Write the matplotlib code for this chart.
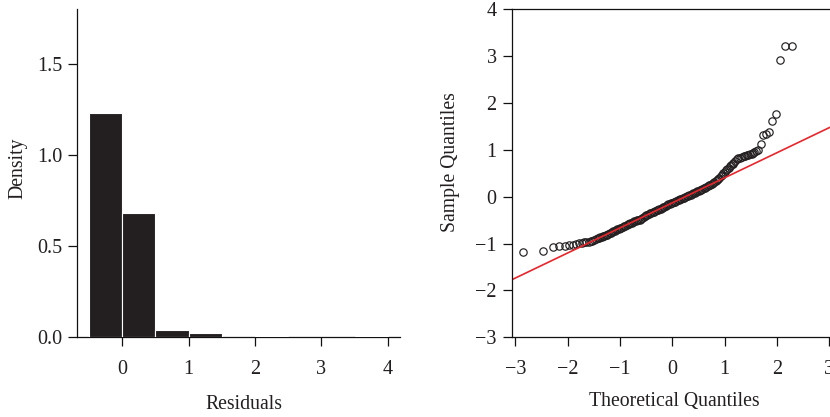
import matplotlib
matplotlib.use("Agg")
import matplotlib.pyplot as plt

# ---------------- data ----------------
hist_bin_edges = [-0.5, 0.0, 0.5, 1.0, 1.5, 2.0, 2.5, 3.0, 3.5, 4.0]
hist_density = [1.23, 0.68, 0.038, 0.022, 0.0, 0.006, 0.0, 0.0, 0.006]
hist_yticks = [0.0, 0.5, 1.0, 1.5]
hist_xticks = [0, 1, 2, 3, 4]

qq_theoretical = [
    -2.85, -2.48, -2.29, -2.16, -2.06, -1.98, -1.905, -1.84, -1.785, -1.733,
    -1.686, -1.642, -1.602, -1.563, -1.527, -1.493,
    -1.450, -1.425, -1.400, -1.375, -1.350, -1.325, -1.300, -1.275, -1.250, -1.225,
    -1.200, -1.175, -1.150, -1.125, -1.100, -1.075, -1.050, -1.025, -1.000, -0.975,
    -0.950, -0.925, -0.900, -0.875, -0.850, -0.825, -0.800, -0.775, -0.750, -0.725,
    -0.700, -0.675, -0.650, -0.625, -0.600, -0.575, -0.550, -0.525, -0.500, -0.475,
    -0.450, -0.425, -0.400, -0.375, -0.350, -0.325, -0.300, -0.275, -0.250, -0.225,
    -0.200, -0.175, -0.150, -0.125, -0.100, -0.075, -0.050, -0.025, 0.000, 0.025,
    0.050, 0.075, 0.100, 0.125, 0.150, 0.175, 0.200, 0.225, 0.250, 0.275,
    0.300, 0.325, 0.350, 0.375, 0.400, 0.425, 0.450, 0.475, 0.500, 0.525,
    0.550, 0.575, 0.600, 0.625, 0.650, 0.675, 0.700, 0.725, 0.750, 0.775,
    0.800, 0.825, 0.850, 0.875, 0.900, 0.925, 0.950, 0.975, 1.000, 1.025,
    1.050, 1.075, 1.100, 1.125, 1.150,
    1.166, 1.200, 1.230, 1.262, 1.295, 1.327, 1.360, 1.390, 1.420, 1.453,
    1.490, 1.518, 1.545, 1.568, 1.602, 1.642, 1.686, 1.733, 1.785, 1.841,
    1.905, 1.977, 2.06, 2.16, 2.29,
]
qq_sample = [
    -1.18, -1.15, -1.07, -1.06, -1.05, -1.04, -1.02, -1.01, -0.99, -0.98,
    -0.97, -0.965, -0.96, -0.95, -0.94, -0.925,
    -0.900, -0.890, -0.878, -0.868, -0.855, -0.842, -0.830, -0.818, -0.806, -0.792,
    -0.778, -0.764, -0.750, -0.738, -0.725, -0.712, -0.698, -0.684, -0.671, -0.657,
    -0.643, -0.630, -0.618, -0.605, -0.592, -0.578, -0.565, -0.553, -0.540, -0.528,
    -0.514, -0.502, -0.494, -0.486, -0.476, -0.462, -0.440, -0.415, -0.396, -0.380,
    -0.366, -0.352, -0.340, -0.328, -0.316, -0.304, -0.292, -0.280, -0.267, -0.254,
    -0.240, -0.226, -0.210, -0.194, -0.178, -0.162, -0.148, -0.136, -0.125, -0.114,
    -0.103, -0.092, -0.080, -0.068, -0.055, -0.042, -0.030, -0.018, -0.006, 0.006,
    0.018, 0.030, 0.043, 0.056, 0.070, 0.084, 0.098, 0.112, 0.126, 0.140,
    0.154, 0.168, 0.182, 0.196, 0.211, 0.226, 0.242, 0.258, 0.276, 0.295,
    0.315, 0.336, 0.358, 0.382, 0.408, 0.437, 0.468, 0.500, 0.532, 0.564,
    0.594, 0.622, 0.650, 0.676, 0.700,
    0.72, 0.77, 0.80, 0.82, 0.835, 0.845, 0.86, 0.87, 0.88, 0.89,
    0.905, 0.92, 0.935, 0.95, 0.97, 1.00, 1.12, 1.31, 1.34, 1.38,
    1.62, 1.76, 2.92, 3.21, 3.22,
]
qq_line_intercept = -0.13
qq_line_slope = 0.535
qq_xticks = [-3, -2, -1, 0, 1, 2, 3]
qq_yticks = [-3, -2, -1, 0, 1, 2, 3, 4]

# ---------------- style ----------------
plt.rcParams["font.family"] = ["Liberation Serif", "DejaVu Serif"]
TXT = "#231f20"
BAR = "#231f20"
TICK_FS = 14.5
LABEL_FS = 14.2
TICK_LEN = 6.8
LW = 0.9

fig = plt.figure(figsize=(8.3, 4.17), dpi=100)

# ---------------- histogram ----------------
ax1 = fig.add_axes([0.0931, 0.1911, 0.3888, 0.7864])
widths = [hist_bin_edges[i + 1] - hist_bin_edges[i] for i in range(len(hist_density))]
ax1.bar(hist_bin_edges[:-1], hist_density, width=widths, align="edge",
        color=BAR, edgecolor="white", linewidth=0.8, zorder=3)
ax1.set_xlim(-0.678, 4.185)
ax1.set_ylim(0, 1.8)
ax1.set_xticks(hist_xticks)
ax1.set_yticks(hist_yticks)
ax1.set_yticklabels([f"{v:.1f}" for v in hist_yticks])
for s in ["top", "right"]:
    ax1.spines[s].set_visible(False)
for s in ["left", "bottom"]:
    ax1.spines[s].set_linewidth(LW)
    ax1.spines[s].set_color("#111111")
ax1.tick_params(axis="x", direction="out", length=TICK_LEN, width=LW, pad=9.5,
                labelsize=TICK_FS, labelcolor=TXT, color="#111111")
ax1.tick_params(axis="y", direction="out", length=TICK_LEN, width=LW, pad=3.8,
                labelsize=TICK_FS, labelcolor=TXT, color="#111111")
ax1.set_xlabel("Residuals", fontsize=LABEL_FS, color=TXT)
ax1.set_ylabel("Density", fontsize=LABEL_FS, color=TXT)
ax1.xaxis.set_label_coords(0.5166, -0.2034)
ax1.xaxis.label.set_va("center")
ax1.yaxis.set_label_coords(-0.185, 0.5146)
ax1.yaxis.label.set_va("center")

# ---------------- QQ plot ----------------
ax2 = fig.add_axes([0.6165, 0.1911, 0.3871, 0.7866])
ax2.plot(qq_theoretical, qq_sample, linestyle="none", marker="o",
         markersize=5.3, markerfacecolor="none", markeredgecolor="#231f20",
         markeredgewidth=0.85)
ax2.axline((0, qq_line_intercept), slope=qq_line_slope, color="#e8262b", linewidth=1.2)
ax2.set_xlim(-3.07, 3.07)
ax2.set_ylim(-3, 4)
ax2.set_xticks(qq_xticks)
ax2.set_yticks(qq_yticks)
for s in ax2.spines.values():
    s.set_linewidth(LW)
    s.set_color("#111111")
ax2.tick_params(axis="x", direction="out", length=TICK_LEN, width=LW, pad=9.5,
                labelsize=TICK_FS, labelcolor=TXT, color="#111111")
ax2.tick_params(axis="y", direction="out", length=TICK_LEN, width=LW, pad=4.0,
                labelsize=TICK_FS, labelcolor=TXT, color="#111111")
ax2.set_xlabel("Theoretical Quantiles", fontsize=LABEL_FS, color=TXT)
ax2.set_ylabel("Sample Quantiles", fontsize=LABEL_FS, color=TXT)
ax2.xaxis.set_label_coords(0.5057, -0.195)
ax2.xaxis.label.set_va("center")
ax2.yaxis.set_label_coords(-0.1905, 0.535)
ax2.yaxis.label.set_va("center")

fig.savefig("out.png", dpi=100)
